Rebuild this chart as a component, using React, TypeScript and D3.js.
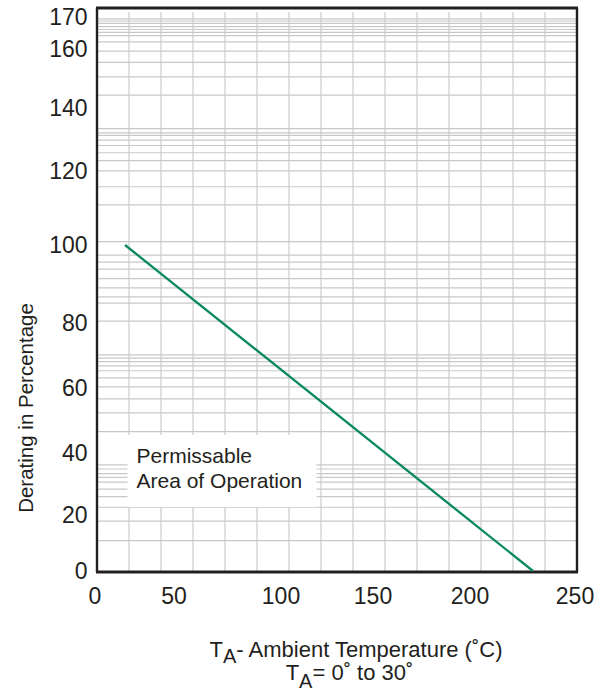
import React from "react";
import * as d3 from "d3";

// ---- data ----
const xTicks = [0, 50, 100, 150, 200, 250];
const yTicks = [0, 20, 40, 60, 80, 100, 120, 140, 160, 170];
// horizontal ruling of the (irregular) graph paper, in % units
const gridPct = [
  169.4, 168.75, 168, 167, 166.1, 165.2, 164.2, 162.2, 159.3, 155.4, 150.5, 144.2,
  133.3, 132.0, 131.2, 129.7, 128.0, 125.7, 123.2, 120.0, 115.7, 110.8, 100.9,
  97.4, 95.6, 93.8, 91.4, 89.0, 86.7, 85.1, 80.5, 70.1, 69.1, 68.0, 66.7, 65.2,
  63.0, 60.2, 56.5, 52.2, 46.4, 36.0, 34.7, 33.2, 32.0, 30.5, 28.2, 25.8, 22.4,
  17.7, 10.8,
];
const verticalDivisions = 15;
const deratingTemp = [19, 230];
const deratingPct = [100, 0];
const noteLines = ["Permissable", "Area of Operation"];

// ---- layout ----
const W = 605;
const H = 692;
const plot = { left: 97, right: 577, top: 8, bottom: 572 };
const FONT = "'Liberation Sans', Arial, Helvetica, sans-serif";
const INK = "#231f20";
const GRID = "#c8c8c8";

// the printed axis is not uniform: piecewise-linear scales through the printed ticks
const xScale = d3
  .scaleLinear()
  .domain(xTicks)
  .range([95, 174, 281, 373, 470, 575]);
const yScale = d3
  .scaleLinear()
  .domain(yTicks)
  .range([571, 514.7, 452.5, 387.5, 323, 245, 170.8, 107.5, 49, 17]);
const paperX = d3
  .scaleLinear()
  .domain([0, verticalDivisions])
  .range([plot.left, plot.right]);

export default function App() {
  const points: [number, number][] = deratingTemp.map((t, i) => [t, deratingPct[i]]);
  const linePath = d3
    .line<[number, number]>()
    .x((d) => xScale(d[0]))
    .y((d) => yScale(d[1]))(points);

  const box = { x: 127.5, y: 435, w: 189, h: 72 };

  return (
    <svg
      width={W}
      height={H}
      viewBox={`0 0 ${W} ${H}`}
      style={{ position: "absolute", left: 0, top: 0, background: "#fff" }}
      fontFamily={FONT}
    >
      <rect x={0} y={0} width={W} height={H} fill="#fff" />
      {/* vertical ruling */}
      <g stroke="#cfcfcf" strokeWidth={1.3}>
        {d3.range(1, verticalDivisions).map((i) => (
          <line key={"v" + i} x1={paperX(i)} x2={paperX(i)} y1={12} y2={plot.bottom} />
        ))}
      </g>
      {/* horizontal ruling */}
      <g stroke={GRID} strokeWidth={1.2}>
        {gridPct.map((v, i) => (
          <line key={"h" + i} x1={plot.left} x2={plot.right} y1={yScale(v)} y2={yScale(v)} />
        ))}
      </g>
      {/* note box */}
      <rect x={box.x} y={box.y} width={box.w} height={box.h} fill="#fff" />
      <text fontSize={21} fill={INK}>
        {noteLines.map((s, i) => (
          <tspan key={s} x={136.5} y={462.5 + i * 25.8}>
            {s}
          </tspan>
        ))}
      </text>
      {/* frame */}
      <g stroke={INK} fill="none">
        <line x1={plot.left - 1} x2={plot.right + 1} y1={plot.top} y2={plot.top} strokeWidth={2.8} />
        <line x1={plot.left - 1} x2={plot.right + 1} y1={plot.bottom} y2={plot.bottom} strokeWidth={2.8} />
        <line x1={plot.left} x2={plot.left} y1={plot.top} y2={plot.bottom} strokeWidth={2.4} />
        <line x1={plot.right} x2={plot.right} y1={plot.top} y2={plot.bottom} strokeWidth={2.4} />
      </g>
      {/* derating curve */}
      <path d={linePath ?? ""} fill="none" stroke="#0b8a5f" strokeWidth={2.3} />
      {/* y tick labels */}
      <g fontSize={23} fill={INK} textAnchor="end">
        {yTicks.map((v) => (
          <text key={"yt" + v} x={87.5} y={yScale(v) + 8.2}>
            {v}
          </text>
        ))}
      </g>
      {/* x tick labels */}
      <g fontSize={23} fill={INK} textAnchor="middle">
        {xTicks.map((v) => (
          <text key={"xt" + v} x={xScale(v)} y={604}>
            {v}
          </text>
        ))}
      </g>
      {/* y title */}
      <text
        transform={`translate(32.5, 408) rotate(-90)`}
        textAnchor="middle"
        fontSize={20.5}
        fill={INK}
      >
        Derating in Percentage
      </text>
      {/* x title */}
      <text x={356} y={656.7} textAnchor="middle" fontSize={22} fill={INK}>
        <tspan>T</tspan>
        <tspan dy={6.5} fontSize={20}>A</tspan>
        <tspan dy={-6.5}>- Ambient Temperature (˚C)</tspan>
      </text>
      <text x={349.5} y={680} textAnchor="middle" fontSize={22} fill={INK}>
        <tspan>T</tspan>
        <tspan dy={7.5} fontSize={20}>A</tspan>
        <tspan dy={-7.5}>= 0˚ to 30˚</tspan>
      </text>
    </svg>
  );
}
